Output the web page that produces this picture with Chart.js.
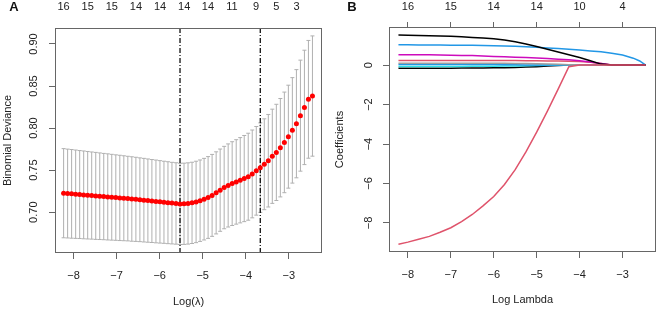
<!DOCTYPE html>
<html>
<head>
<meta charset="utf-8">
<script src="https://cdn.jsdelivr.net/npm/chart.js@4/dist/chart.umd.min.js"></script>
<style>
 body{margin:0;background:#fff;}
 #wrap{position:relative;width:658px;height:310px;}
 canvas{position:absolute;top:0;}
</style>
</head>
<body>
<div id="wrap">
 <canvas id="cvA" width="330" height="310" style="left:0"></canvas>
 <canvas id="cvB" width="328" height="310" style="left:330px"></canvas>
</div>
<script>
/* ---------- PANEL A : cross-validation ---------- */
const cvLogLambda = [-8.230,-8.137,-8.044,-7.950,-7.857,-7.764,-7.671,-7.578,-7.484,-7.391,
 -7.298,-7.205,-7.112,-7.018,-6.925,-6.832,-6.739,-6.646,-6.552,-6.459,
 -6.366,-6.273,-6.180,-6.086,-5.993,-5.900,-5.807,-5.714,-5.620,-5.527,
 -5.434,-5.341,-5.248,-5.154,-5.061,-4.968,-4.875,-4.782,-4.688,-4.595,
 -4.502,-4.409,-4.316,-4.222,-4.129,-4.036,-3.943,-3.850,-3.756,-3.663,
 -3.570,-3.477,-3.384,-3.290,-3.197,-3.104,-3.011,-2.918,-2.824,-2.731,
 -2.638,-2.545,-2.452];
const cvMean = [0.7226,0.7222,0.7218,0.7214,0.7210,0.7206,0.7202,0.7198,0.7194,0.7190,
 0.7186,0.7182,0.7178,0.7174,0.7170,0.7166,0.7162,0.7157,0.7153,0.7148,
 0.7143,0.7138,0.7133,0.7128,0.7123,0.7118,0.7113,0.7108,0.7104,0.7099,
 0.7100,0.7104,0.7111,0.7122,0.7137,0.7155,0.7175,0.7200,0.7230,0.7262,
 0.7293,0.7318,0.7340,0.7360,0.7380,0.7400,0.7422,0.7455,0.7492,0.7530,
 0.7570,0.7612,0.7665,0.7711,0.7767,0.7830,0.7898,0.7973,0.8052,0.8148,
 0.8246,0.8342,0.8381];
const cvSE = [0.0530,0.0528,0.0527,0.0525,0.0523,0.0522,0.0520,0.0518,0.0517,0.0515,
 0.0513,0.0512,0.0510,0.0508,0.0507,0.0505,0.0503,0.0502,0.0500,0.0498,
 0.0497,0.0495,0.0493,0.0492,0.0490,0.0488,0.0487,0.0485,0.0484,0.0483,
 0.0483,0.0483,0.0483,0.0484,0.0484,0.0485,0.0486,0.0487,0.0488,0.0489,
 0.0490,0.0494,0.0498,0.0502,0.0507,0.0512,0.0517,0.0522,0.0527,0.0532,
 0.0540,0.0550,0.0560,0.0572,0.0585,0.0598,0.0612,0.0627,0.0643,0.0660,
 0.0680,0.0700,0.0715];
const lambdaMin = -5.527, lambda1se = -3.663;
const xTicks = [-8,-7,-6,-5,-4,-3];
const devTicks = [0.70,0.75,0.80,0.85,0.90];
const topPosA = [-8.23,-7.67,-7.11,-6.55,-5.99,-5.43,-4.88,-4.32,-3.76,-3.29,-2.82];
const topCountA = ["16","15","15","14","14","14","14","11","9","5","3"];

/* ---------- PANEL B : coefficient paths ---------- */
const pathLogLambda = [-8.22,-8.0,-7.75,-7.5,-7.25,-7.0,-6.75,-6.5,-6.25,-6.0,-5.75,-5.5,-5.25,-5.0,-4.75,-4.5,-4.25,-4.0,-3.75,-3.5,-3.25,-3.0,-2.75,-2.6,-2.46];
const coefBlack   = [1.52,1.51,1.50,1.49,1.48,1.46,1.43,1.40,1.37,1.33,1.27,1.18,1.07,0.94,0.80,0.66,0.52,0.38,0.22,0.05,0,0,0,0,0];
const coefRed     = [-9.08,-8.97,-8.82,-8.68,-8.47,-8.24,-7.93,-7.57,-7.13,-6.66,-6.05,-5.30,-4.40,-3.40,-2.33,-1.22,-0.08,0,0,0,0,0,0,0,0];
const coefBlue    = [1.03,1.03,1.02,1.02,1.02,1.01,1.01,1.00,0.99,0.98,0.97,0.95,0.93,0.90,0.87,0.84,0.80,0.77,0.72,0.67,0.60,0.51,0.35,0.21,0];
const coefMagenta = [0.53,0.53,0.52,0.52,0.51,0.50,0.49,0.48,0.46,0.44,0.42,0.40,0.38,0.36,0.33,0.30,0.27,0.22,0.16,0.08,0,0,0,0,0];
const coefPink    = [0.23,0.23,0.23,0.23,0.23,0.23,0.23,0.23,0.23,0.23,0.23,0.23,0.22,0.22,0.21,0.21,0.20,0.18,0.14,0.08,0,0,0,0,0];
const coefGray    = [0.09,0.09,0.09,0.09,0.09,0.09,0.09,0.09,0.09,0.09,0.09,0.08,0.08,0.07,0.06,0.04,0.02,0,0,0,0,0,0,0,0];
const coefBlue2   = [0.03,0.03,0.03,0.03,0.03,0.03,0.03,0.03,0.03,0.03,0.02,0.02,0.01,0.01,0,0,0,0,0,0,0,0,0,0,0];
const coefCyan    = [-0.07,-0.07,-0.07,-0.07,-0.07,-0.07,-0.07,-0.06,-0.06,-0.06,-0.05,-0.04,-0.03,-0.02,-0.01,0,0,0,0,0,0,0,0,0,0];
const coefBlack2  = [-0.16,-0.16,-0.16,-0.16,-0.16,-0.16,-0.15,-0.15,-0.15,-0.14,-0.13,-0.12,-0.10,-0.08,-0.05,-0.02,0,0,0,0,0,0,0,0,0];
const coefTicks = [0,-2,-4,-6,-8];
const topPosB = [-8,-7,-6,-5,-4,-3];
const topCountB = ["16","15","14","14","10","4"];

const FONT = '"Liberation Sans", Arial, Helvetica, sans-serif';
Chart.defaults.font.family = FONT;
Chart.defaults.font.size = 11;
Chart.defaults.color = '#222';
const AXC = '#666';
const minus = v => String(v).replace('-', '\u2212');

/* box, rotated y labels, panel letter */
const rFrame = {
 id:'rFrame',
 afterDraw(chart, args, o){
  const {ctx, chartArea:a, scales} = chart;
  ctx.save();
  ctx.strokeStyle = AXC; ctx.lineWidth = 1;
  ctx.strokeRect(Math.round(a.left)+.5, Math.round(a.top)+.5, Math.round(a.right-a.left)-1, Math.round(a.bottom-a.top)-1);
  ctx.fillStyle = '#222'; ctx.font = '11px ' + FONT;
  ctx.textAlign = 'center'; ctx.textBaseline = 'middle';
  scales.y.ticks.forEach(t => {
   ctx.save();
   ctx.translate(o.labelX, scales.y.getPixelForValue(t.value));
   ctx.rotate(-Math.PI/2);
   ctx.fillText(t.label, 0, 0);
   ctx.restore();
  });
  ctx.fillStyle = '#111'; ctx.font = 'bold 13px ' + FONT;
  ctx.fillText(o.panel, o.panelX, o.panelY);
  ctx.restore();
 }
};

function fixTicks(list){ return s => { s.ticks = list.map(v => ({value:v})); }; }

/* ---------- CHART A ---------- */
let stems = [], capsUp = [], capsLo = [], dots = [];
cvLogLambda.forEach((x,i) => {
 let lo = cvMean[i]-cvSE[i], hi = cvMean[i]+cvSE[i];
 stems.push({x:x,y:lo},{x:x,y:hi},{x:x,y:null});
 capsUp.push({x:x,y:hi}); capsLo.push({x:x,y:lo});
 dots.push({x:x,y:cvMean[i]});
});
const devMin = 0.6515, devMax = 0.919;

new Chart(document.getElementById('cvA'), {
 type:'scatter',
 data:{datasets:[
  {data:dots, pointRadius:2.5, pointBackgroundColor:'#ff0000', pointBorderWidth:0, order:0},
  {data:[{x:lambdaMin,y:devMin},{x:lambdaMin,y:devMax}], showLine:true, pointRadius:0, borderColor:'#111', borderWidth:1.3, borderDash:[5,2,1,2], order:1},
  {data:[{x:lambda1se,y:devMin},{x:lambda1se,y:devMax}], showLine:true, pointRadius:0, borderColor:'#111', borderWidth:1.3, borderDash:[5,2,1,2], order:1},
  {data:stems, showLine:true, spanGaps:false, pointRadius:0, borderColor:'#b0b0b0', borderWidth:1, order:2},
  {data:capsUp, pointStyle:'line', pointRadius:2, pointBorderColor:'#b0b0b0', pointBorderWidth:1, order:2},
  {data:capsLo, pointStyle:'line', pointRadius:2, pointBorderColor:'#b0b0b0', pointBorderWidth:1, order:2}
 ]},
 options:{
  responsive:false, animation:false,
  layout:{padding:{left:0,right:8,top:0,bottom:0}},
  plugins:{legend:{display:false}, tooltip:{enabled:false},
   rFrame:{labelX:34, panel:'A', panelX:14, panelY:7}},
  scales:{
   x:{type:'linear', position:'bottom', min:-8.43, max:-2.23,
      afterBuildTicks:fixTicks(xTicks), afterFit:s=>{s.height=57;},
      ticks:{callback:v=>minus(v), padding:10, maxRotation:0},
      grid:{drawOnChartArea:false, tickLength:6, color:AXC}, border:{display:false},
      title:{display:true, text:'Log(\u03bb)', padding:{top:0,bottom:1}}},
   xTop:{type:'linear', position:'top', min:-8.43, max:-2.23,
      afterBuildTicks:fixTicks(topPosA), afterFit:s=>{s.height=28;},
      ticks:{callback:(v,i)=>topCountA[i], padding:14, maxRotation:0, autoSkip:false},
      grid:{drawOnChartArea:false, drawTicks:false}, border:{display:false}},
   y:{type:'linear', position:'left', min:devMin, max:devMax,
      afterBuildTicks:fixTicks(devTicks), afterFit:s=>{s.width=55;},
      ticks:{display:false, callback:v=>v.toFixed(2)},
      grid:{drawOnChartArea:false, tickLength:6, color:AXC}, border:{display:false},
      title:{display:true, text:'Binomial Deviance', padding:{top:1,bottom:0}}}
  }
 },
 plugins:[rFrame]
});

/* ---------- CHART B ---------- */
const paths = [
 [coefBlack2,'#000000'],[coefCyan,'#28E2E5'],[coefBlue2,'#2297E6'],
 [coefGray,'#9E9E9E'],[coefPink,'#DF536B'],[coefMagenta,'#CD0BBC'],
 [coefBlue,'#2297E6'],[coefBlack,'#000000'],[coefRed,'#DF536B']
];
new Chart(document.getElementById('cvB'), {
 type:'scatter',
 data:{datasets:paths.map(([vals,col],k) => ({
  data:pathLogLambda.map((x,i)=>({x:x,y:vals[i]})),
  showLine:true, pointRadius:0, borderColor:col, borderWidth:1.5,
  tension:0, order:paths.length-k
 }))},
 options:{
  responsive:false, animation:false,
  layout:{padding:{left:0,right:2,top:0,bottom:0}},
  plugins:{legend:{display:false}, tooltip:{enabled:false},
   rFrame:{labelX:39, panel:'B', panelX:22, panelY:7}},
  scales:{
   x:{type:'linear', position:'bottom', min:-8.44, max:-2.22,
      afterBuildTicks:fixTicks(xTicks), afterFit:s=>{s.height=58;},
      ticks:{callback:v=>minus(v), padding:10, maxRotation:0},
      grid:{drawOnChartArea:false, tickLength:6, color:AXC}, border:{display:false},
      title:{display:true, text:'Log Lambda', padding:{top:0,bottom:3}}},
   xTop:{type:'linear', position:'top', min:-8.44, max:-2.22,
      afterBuildTicks:fixTicks(topPosB), afterFit:s=>{s.height=27;},
      ticks:{callback:(v,i)=>topCountB[i], padding:8, maxRotation:0, autoSkip:false},
      grid:{drawOnChartArea:false, tickLength:5, color:AXC}, border:{display:false}},
   y:{type:'linear', position:'left', min:-9.47, max:1.93,
      afterBuildTicks:fixTicks(coefTicks), afterFit:s=>{s.width=59;},
      ticks:{display:false, callback:v=>minus(v)},
      grid:{drawOnChartArea:false, tickLength:6, color:AXC}, border:{display:false},
      title:{display:true, text:'Coefficients', padding:{top:3,bottom:0}}}
  }
 },
 plugins:[rFrame]
});
</script>
</body>
</html>
